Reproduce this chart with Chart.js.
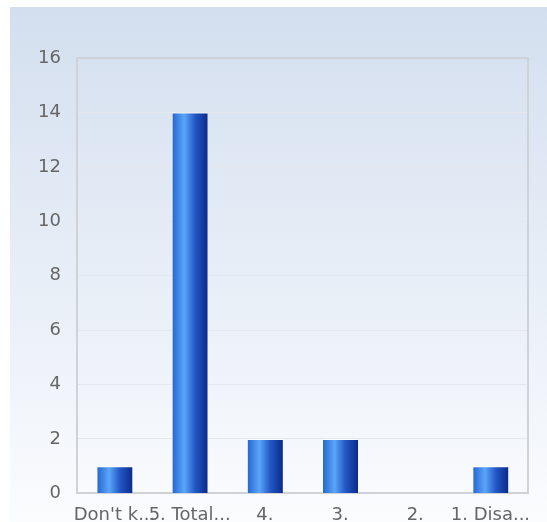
<!DOCTYPE html>
<html>
<head>
<meta charset="utf-8">
<script src="https://cdn.jsdelivr.net/npm/chart.js@4/dist/chart.umd.min.js"></script>
<style>
  html, body { margin: 0; padding: 0; background: #fff; }
  #wrap { width: 547px; height: 522px; position: relative; }
</style>
</head>
<body>
<div id="wrap"><canvas id="chart"></canvas></div>
<script>
const categories = ["Don't k...", "5. Total...", "4.", "3.", "2.", "1. Disa..."];
const counts = [1, 14, 2, 2, 0, 1];
const yTicks = [0, 2, 4, 6, 8, 10, 12, 14, 16];

// panel background behind the whole chart
const panelBg = {
    id: 'panelBg',
    beforeDraw(chart) {
        const ctx = chart.ctx;
        const g = ctx.createLinearGradient(0, 7, 0, chart.height);
        g.addColorStop(0, '#d3dfef');
        g.addColorStop(1, '#fbfcfe');
        ctx.save();
        ctx.fillStyle = g;
        ctx.fillRect(10, 7, chart.width - 10, chart.height - 7);
        ctx.restore();
    }
};

// horizontal shading on each bar, built once the bars have their positions
const barShade = {
    id: 'barShade',
    beforeDatasetsDraw(chart) {
        const ctx = chart.ctx;
        chart.getDatasetMeta(0).data.forEach(el => {
            const half = el.width / 2;
            const g = ctx.createLinearGradient(el.x - half, 0, el.x + half, 0);
            g.addColorStop(0, '#2462cc');
            g.addColorStop(0.35, '#5aa6fb');
            g.addColorStop(0.65, '#2258c4');
            g.addColorStop(1, '#0b2a8a');
            // options are shared between bars, so give each its own copy
            el.options = Object.assign({}, el.options, {backgroundColor: g});
        });
    }
};

new Chart(document.getElementById('chart'), {
    type: 'bar',
    data: {
        labels: categories,
        datasets: [{
            data: counts,
            backgroundColor: '#2a6ad4',
            borderColor: 'rgba(255,255,255,0.75)',
            borderWidth: {top: 1, left: 1, right: 0, bottom: 0},
            categoryPercentage: 1,
            barPercentage: 0.48
        }]
    },
    options: {
        responsive: true, maintainAspectRatio: false,
        animation: false,
        layout: { padding: {top: 58, right: 19, bottom: -7, left: 22} },
        plugins: { legend: {display: false}, tooltip: {enabled: false} },
        scales: {
            x: {
                grid: { display: false },
                border: { color: '#cfd3d8', width: 2 },
                ticks: {
                    autoSkip: false, maxRotation: 0, padding: 3,
                    color: '#666', font: {family: 'DejaVu Sans', size: 18}
                }
            },
            y: {
                min: 0, max: 16,
                afterBuildTicks: axis => { axis.ticks = yTicks.map(v => ({value: v})); },
                grid: { color: '#e4e8ee', drawTicks: false },
                border: { color: '#cfd3d8', width: 2 },
                ticks: {
                    padding: 16,
                    color: '#666', font: {family: 'DejaVu Sans', size: 18}
                }
            }
        }
    },
    plugins: [panelBg, barShade, {
        id: 'frame',
        afterDraw(chart) {
            const a = chart.chartArea, ctx = chart.ctx;
            ctx.save();
            ctx.strokeStyle = '#cfd3d8';
            ctx.lineWidth = 2;
            ctx.beginPath();
            ctx.moveTo(a.left, a.top); ctx.lineTo(a.right, a.top); ctx.lineTo(a.right, a.bottom);
            ctx.stroke();
            ctx.restore();
        }
    }]
});
</script>
</body>
</html>
